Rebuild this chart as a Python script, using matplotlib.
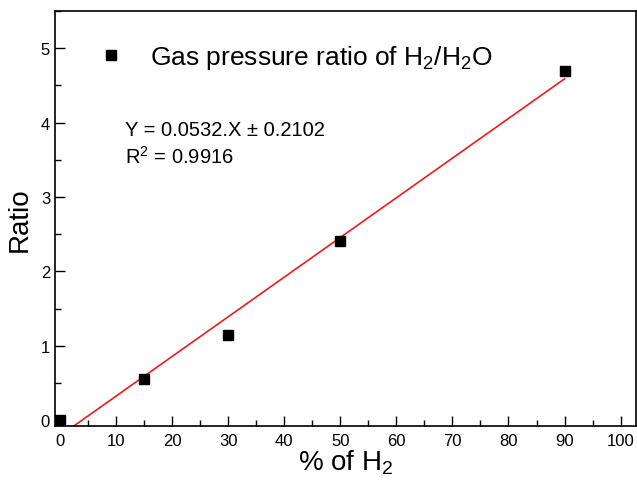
import numpy as np
import matplotlib
matplotlib.use("Agg")
import matplotlib.pyplot as plt
from matplotlib.ticker import MultipleLocator

plt.rcParams['font.family'] = ['Liberation Sans', 'DejaVu Sans']
plt.rcParams['mathtext.fontset'] = 'custom'
plt.rcParams['mathtext.rm'] = 'Liberation Sans'
plt.rcParams['mathtext.it'] = 'Liberation Sans:italic'

# data
h2_percent = [0, 15, 30, 50, 90]
ratio = [0.0, 0.55, 1.15, 2.41, 4.70]
fit_label = "Y = 0.0532.X \u00b1 0.2102"
r2_label = "R$^2$ = 0.9916"

# linear fit through the points
slope, icpt = np.polyfit(h2_percent, ratio, 1)
fit_x = np.array([0, 90])
fit_y = slope * fit_x + icpt

fig = plt.figure(figsize=(6.37, 4.85), dpi=100)
ax = fig.add_axes([0.0863, 0.1196, 0.9117, 0.8555])

ax.plot(h2_percent, ratio, 's', color='black', markersize=7.5,
        label=r"Gas pressure ratio of H$_2$/H$_2$O", zorder=3)
ax.plot(fit_x, fit_y, '-', color='#ee1c1c', linewidth=1.2, zorder=2)

ax.set_xlim(-0.9, 102.7)
ax.set_ylim(-0.08, 5.5)
ax.xaxis.set_major_locator(MultipleLocator(10))
ax.xaxis.set_minor_locator(MultipleLocator(5))
ax.yaxis.set_major_locator(MultipleLocator(1))
ax.yaxis.set_minor_locator(MultipleLocator(0.5))
ax.tick_params(which='both', direction='in', top=False, right=False,
               width=1.0, labelsize=12)
ax.tick_params(which='major', length=7)
ax.tick_params(which='minor', length=4)
ax.tick_params(axis='x', pad=5)
for s in ax.spines.values():
    s.set_linewidth(1.2)

ax.set_xlabel(r"% of H$_2$", fontsize=20, labelpad=0)
ax.set_ylabel("Ratio", fontsize=20, labelpad=6)

ax.legend(loc='center left', bbox_to_anchor=(0.074, 0.889), frameon=False,
          fontsize=19, numpoints=1, handlelength=1.0, handletextpad=0.98,
          borderpad=0, borderaxespad=0)

ax.text(0.12, 0.701, fit_label, transform=ax.transAxes, fontsize=14.5,
        va='baseline')
ax.text(0.12, 0.635, r2_label, transform=ax.transAxes, fontsize=14.5,
        va='baseline')

fig.savefig("out.png", dpi=100)
